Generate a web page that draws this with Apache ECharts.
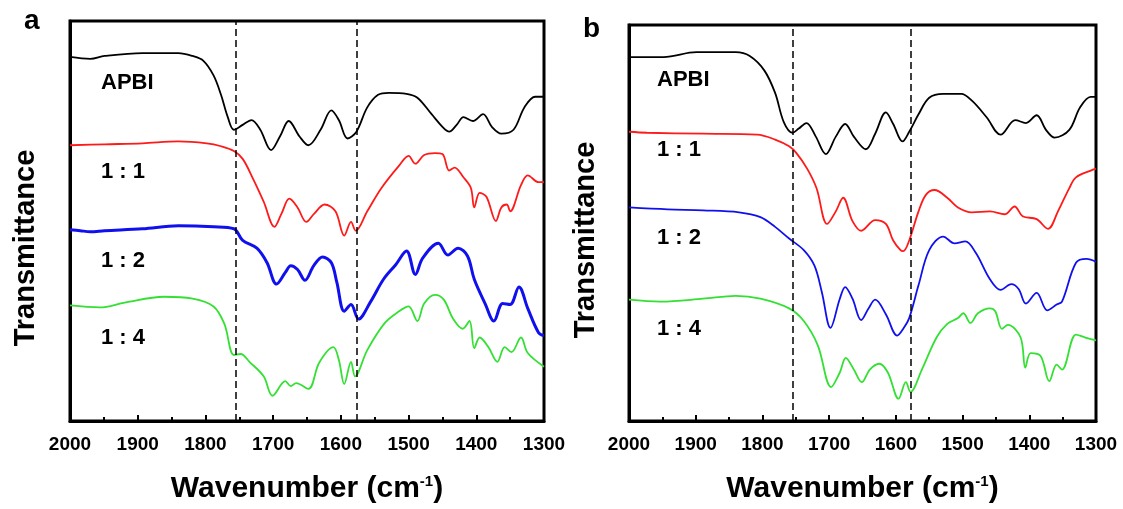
<!DOCTYPE html>
<html><head><meta charset="utf-8">
<script src="https://cdn.jsdelivr.net/npm/echarts@6/dist/echarts.min.js"></script>
<style>html,body{margin:0;padding:0;background:#fff}#c{width:1123px;height:509px}</style>
</head><body><div id="c"></div>
<script>
// ---- Panel a data (wavenumber cm-1, transmittance a.u.) ----
const aApbiX = [2000,1970,1949,1893,1840,1819,1803,1788,1777,1767,1758,1745,1732,1719,1703,1690,1677,1661,1648,1630,1614,1603,1590,1577,1561,1545,1529,1503,1487,1466,1450,1440,1429,1419,1405,1390,1377,1363,1345,1329,1313,1300];
const aApbiY = [375,373,376,379,379,376,371,356,336,313,300,305,310,300,279,293,309,293,284,300,320,310,291,298,323,336,338,337,333,316,303,298,305,313,309,316,303,296,300,323,334,334];
const a11X = [2000,1949,1893,1840,1798,1777,1758,1745,1730,1714,1698,1688,1676,1664,1651,1640,1624,1608,1595,1585,1578,1561,1540,1514,1500,1490,1477,1461,1450,1440,1432,1419,1408,1403,1395,1385,1371,1363,1355,1350,1334,1324,1308,1300];
const a11Y = [284,285,286,288,286,283,278,270,250,226,200,213,229,220,205,213,223,216,191,205,196,216,240,263,273,265,274,276,275,258,261,251,240,220,235,231,206,220,223,216,243,253,246,246];
const a12X = [2000,1985,1970,1949,1893,1840,1788,1758,1745,1724,1709,1695,1682,1674,1664,1653,1640,1627,1614,1606,1595,1585,1574,1556,1537,1519,1503,1490,1479,1456,1442,1427,1413,1403,1387,1374,1361,1350,1337,1324,1308,1300];
const a12Y = [197,196,195,196,198,201,200,198,186,178,163,141,153,160,156,145,160,169,163,143,113,120,105,123,146,161,175,151,168,183,171,178,170,146,121,103,121,120,138,116,91,88];
const a14X = [2000,1956,1919,1861,1819,1788,1772,1758,1748,1735,1714,1701,1682,1674,1666,1648,1632,1611,1603,1595,1585,1579,1561,1535,1514,1500,1487,1477,1461,1448,1434,1420,1410,1403,1395,1382,1369,1358,1348,1334,1324,1300];
const a14Y = [119,117,122,128,126,118,100,68,69,61,46,26,41,36,39,33,60,76,63,38,61,46,73,101,113,118,103,121,130,125,105,95,103,75,86,76,61,76,71,86,70,56];

// ---- Panel b data ----
const bApbiX = [2000,1948,1899,1840,1819,1797,1781,1768,1755,1746,1734,1720,1705,1690,1676,1663,1645,1631,1615,1604,1590,1580,1566,1550,1529,1502,1486,1464,1443,1421,1405,1389,1375,1362,1340,1324,1308,1300];
const bApbiY = [375,375,380,380,376,361,338,308,297,301,307,293,275,293,306,293,280,296,318,306,288,298,316,333,337,337,330,313,295,310,307,315,300,292,300,323,334,334];
const b11X = [2000,1973,1889,1808,1781,1760,1749,1733,1719,1703,1690,1679,1665,1652,1631,1615,1604,1593,1589,1580,1566,1555,1542,1523,1507,1486,1459,1437,1422,1410,1389,1372,1357,1340,1330,1308,1300];
const b11Y = [298,297,296,295,290,283,276,260,240,203,216,230,206,196,207,203,186,176,175,186,216,233,238,230,220,215,216,213,221,211,208,198,216,240,251,258,260];
const b12X = [2000,1942,1889,1835,1803,1781,1760,1738,1722,1711,1698,1684,1676,1665,1652,1641,1631,1615,1598,1588,1580,1566,1550,1529,1512,1496,1480,1459,1443,1427,1416,1405,1389,1373,1359,1351,1330,1314,1300];
const b12Y = [220,218,217,215,210,200,188,176,160,133,96,126,138,126,104,116,125,110,88,96,106,140,176,190,183,185,173,146,135,141,136,121,132,114,120,123,163,167,164];
const b14X = [2000,1953,1889,1840,1803,1760,1738,1717,1697,1684,1675,1663,1651,1639,1625,1612,1596,1585,1578,1561,1539,1523,1507,1499,1488,1477,1459,1451,1441,1432,1413,1406,1398,1383,1370,1359,1351,1330,1316,1300];
const b14Y = [125,123,126,129,126,116,103,78,35,50,65,53,40,53,59,50,23,40,30,53,86,100,106,111,101,111,116,113,95,99,86,55,70,67,41,58,53,89,86,83];

const dashA = [1755, 1576];
const dashB = [1755, 1578];
const curveLabels = ['APBI', '1 : 1', '1 : 2', '1 : 4'];

const zip = (xs, ys) => xs.map((x, i) => [x, ys[i]]);
const FONT = 'Arial, "Liberation Sans", sans-serif';

function xAxisFor(gi) {
  return {
    gridIndex: gi, type: 'value', min: 1300, max: 2000, interval: 100, inverse: true,
    axisLine: { show: true, onZero: false, lineStyle: { color: '#000', width: 3 } },
    axisTick: { show: true, inside: true, length: 6, lineStyle: { color: '#000', width: 2 } },
    minorTick: { show: true, splitNumber: 2, length: 4, lineStyle: { color: '#000', width: 2 } },
    splitLine: { show: false },
    axisLabel: { color: '#000', fontSize: 19, fontWeight: 'bold', fontFamily: FONT, margin: 14,
      formatter: v => String(v) },
    name: '{t|Wavenumber (cm}{s|-1}{t|)}', nameLocation: 'middle', nameGap: 53,
    nameTextStyle: { rich: {
      t: { fontSize: 30, fontWeight: 'bold', fontFamily: FONT, color: '#000' },
      s: { fontSize: 15, fontWeight: 'bold', fontFamily: FONT, color: '#000', verticalAlign: 'top', padding: [0,0,13,0] }
    } }
  };
}
function yAxisFor(gi, max) {
  return {
    gridIndex: gi, type: 'value', min: 0, max: max,
    axisLine: { show: true, lineStyle: { color: '#000', width: 3 } },
    axisTick: { show: false }, axisLabel: { show: false }, splitLine: { show: false }
  };
}
function line(gi, data, color, width, dashes) {
  const s = {
    type: 'line', xAxisIndex: gi, yAxisIndex: gi, data: data, showSymbol: false, symbol: 'none',
    smooth: 0.35, lineStyle: { color: color, width: width }, animation: false, z: 3
  };
  if (dashes) {
    s.markLine = {
      silent: true, symbol: ['none', 'none'], label: { show: false },
      lineStyle: { color: '#000', type: [7, 4], width: 1.5 },
      data: dashes.map(d => ({ xAxis: d }))
    };
  }
  return s;
}
function txt(left, top, text, size) {
  return { type: 'text', left: left, top: top, style: { text: text, fill: '#000',
    font: 'bold ' + (size || 22) + 'px ' + FONT } };
}
function vtxt(cx, cy, text) {
  return { type: 'text', x: cx, y: cy, rotation: Math.PI / 2,
    style: { text: text, fill: '#000', font: 'bold 29px ' + FONT, align: 'center', verticalAlign: 'middle' } };
}

const chart = echarts.init(document.getElementById('c'));
chart.setOption({
  animation: false,
  backgroundColor: '#fff',
  grid: [
    { left: 70, top: 21, width: 474, height: 412, show: true, borderColor: '#000', borderWidth: 3 },
    { left: 629, top: 25, width: 467, height: 408, show: true, borderColor: '#000', borderWidth: 3 }
  ],
  xAxis: [xAxisFor(0), xAxisFor(1)],
  yAxis: [yAxisFor(0, 412), yAxisFor(1, 408)],
  series: [
    line(0, zip(aApbiX, aApbiY), '#000000', 1.8, dashA),
    line(0, zip(a11X, a11Y), '#ff1a1a', 1.8),
    line(0, zip(a12X, a12Y), '#1010ee', 3),
    line(0, zip(a14X, a14Y), '#33e033', 1.8),
    line(1, zip(bApbiX, bApbiY), '#000000', 1.8, dashB),
    line(1, zip(b11X, b11Y), '#ff1a1a', 1.8),
    line(1, zip(b12X, b12Y), '#1010ee', 1.8),
    line(1, zip(b14X, b14Y), '#33e033', 1.8)
  ],
  graphic: [
    txt(24, 7, 'a', 28), txt(583, 15, 'b', 28),
    vtxt(26, 248, 'Transmittance'), vtxt(586, 240, 'Transmittance'),
    txt(101, 72, curveLabels[0]), txt(101, 161, curveLabels[1]), txt(101, 250, curveLabels[2]), txt(101, 327, curveLabels[3]),
    txt(657, 69, curveLabels[0]), txt(657, 139, curveLabels[1]), txt(657, 227, curveLabels[2]), txt(657, 318, curveLabels[3])
  ]
});
</script></body></html>
